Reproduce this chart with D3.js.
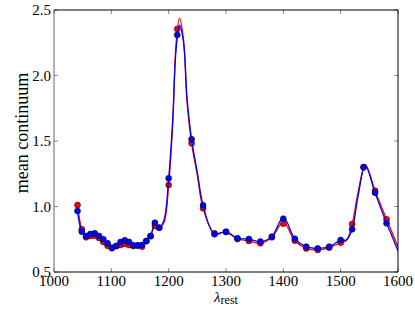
<!DOCTYPE html>
<html><head><meta charset="utf-8">
<script src="https://cdn.jsdelivr.net/npm/d3@7"></script>
<style>body{margin:0;background:#fff}svg{display:block}</style>
</head><body>
<script>
// ---- data ----
const wave = [1041,1048.5,1056,1063.5,1071,1078.5,1086,1093.5,1101,1108.5,1116,1123.5,1131,1138.5,1146,1153.5,1161,1168.5,1176,1183.5,1200,1215,1240,1260,1280,1300,1320,1340,1360,1380,1400,1420,1440,1460,1480,1500,1520,1540,1560,1580];
const redPts = [1.011,0.826,0.765,0.775,0.777,0.760,0.729,0.700,0.681,0.698,0.706,0.714,0.706,0.698,0.700,0.693,0.735,0.773,0.851,0.838,1.164,2.355,1.482,0.986,0.795,0.805,0.752,0.737,0.719,0.765,0.869,0.739,0.680,0.668,0.686,0.724,0.866,1.300,1.120,0.902];
const bluePts = [0.966,0.808,0.775,0.790,0.795,0.775,0.750,0.719,0.686,0.698,0.729,0.742,0.729,0.704,0.704,0.706,0.737,0.775,0.876,0.838,1.215,2.310,1.513,1.009,0.788,0.808,0.757,0.752,0.732,0.770,0.907,0.754,0.693,0.680,0.693,0.744,0.826,1.300,1.105,0.872];

// model curves
const curveWave = [1041,1048.5,1056,1063.5,1071,1078.5,1086,1093.5,1101,1108.5,1116,1123.5,1131,1138.5,1146,1153.5,1161,1168.5,1176,1183.5,1192,1200,1207,1213,1219,1226,1232,1240,1250,1260,1280,1300,1320,1340,1360,1380,1400,1420,1440,1460,1480,1500,1510,1520,1530,1543,1560,1580,1590,1600];
const redCurve = [1.011,0.826,0.765,0.775,0.777,0.760,0.729,0.700,0.681,0.698,0.706,0.714,0.706,0.698,0.700,0.693,0.735,0.773,0.851,0.838,0.880,1.164,1.620,2.250,2.437,2.270,1.800,1.482,1.240,0.986,0.795,0.805,0.752,0.737,0.719,0.765,0.880,0.739,0.680,0.668,0.686,0.724,0.740,0.866,1.100,1.320,1.120,0.902,0.800,0.690];
const blueCurve = [0.966,0.808,0.775,0.790,0.795,0.775,0.750,0.719,0.686,0.698,0.729,0.742,0.729,0.704,0.704,0.706,0.737,0.775,0.876,0.838,0.900,1.215,1.660,2.200,2.385,2.250,1.830,1.513,1.260,1.009,0.788,0.808,0.757,0.752,0.732,0.770,0.917,0.754,0.693,0.680,0.693,0.744,0.745,0.826,1.070,1.310,1.105,0.872,0.770,0.660];

const xTicks = [1000,1100,1200,1300,1400,1500,1600];
const yTicks = [0.5,1.0,1.5,2.0,2.5];

// ---- layout ----
const W = 415, H = 312;
const L = 54, R = 398, T = 10, B = 272;
const svg = d3.select("body").append("svg").attr("width", W).attr("height", H);
const x = d3.scaleLinear().domain([1000,1600]).range([L,R]);
const y = d3.scaleLinear().domain([0.5,2.5]).range([B,T]);
const font = "'Liberation Serif', 'DejaVu Serif', serif";

svg.append("defs").append("clipPath").attr("id","clip")
  .append("rect").attr("x",L).attr("y",T).attr("width",R-L).attr("height",B-T);

const line = d3.line().x(d=>x(d[0])).y(d=>y(d[1])).curve(d3.curveCatmullRom.alpha(0.5));
const plot = svg.append("g").attr("clip-path","url(#clip)");

function series(curveVals, ptVals, color){
  plot.append("path").datum(curveWave.map((w,i)=>[w,curveVals[i]]))
    .attr("d", line).attr("fill","none").attr("stroke",color).attr("stroke-width",1.3);
  plot.append("g").selectAll("circle").data(wave.map((w,i)=>[w,ptVals[i]])).join("circle")
    .attr("cx",d=>x(d[0])).attr("cy",d=>y(d[1])).attr("r",3)
    .attr("fill",color).attr("stroke","#000").attr("stroke-width",0.5);
}
series(redCurve, redPts, "#ff0000");
series(blueCurve, bluePts, "#0000ff");

// ---- axes ----
const tickLen = 4;
const axisG = svg.append("g");
xTicks.forEach(t=>{
  axisG.append("line").attr("x1",x(t)).attr("x2",x(t)).attr("y1",B).attr("y2",B-tickLen).attr("stroke","#888");
  axisG.append("line").attr("x1",x(t)).attr("x2",x(t)).attr("y1",T).attr("y2",T+tickLen).attr("stroke","#888");
});
yTicks.forEach(t=>{
  axisG.append("line").attr("x1",L).attr("x2",L+tickLen).attr("y1",y(t)).attr("y2",y(t)).attr("stroke","#888");
  axisG.append("line").attr("x1",R).attr("x2",R-tickLen).attr("y1",y(t)).attr("y2",y(t)).attr("stroke","#888");
});
axisG.append("line").attr("x1",L).attr("x2",L).attr("y1",T).attr("y2",B).attr("stroke","#666").attr("stroke-width",1);
axisG.append("line").attr("x1",R).attr("x2",R).attr("y1",T).attr("y2",B).attr("stroke","#000").attr("stroke-width",1);
axisG.append("line").attr("x1",L).attr("x2",R).attr("y1",T).attr("y2",T).attr("stroke","#000").attr("stroke-width",1);
axisG.append("line").attr("x1",L).attr("x2",R).attr("y1",B).attr("y2",B).attr("stroke","#000").attr("stroke-width",1);

// tick labels
svg.append("g").selectAll("text").data(xTicks).join("text")
  .attr("x",d=>x(d)).attr("y",B+14).attr("text-anchor","middle")
  .attr("font-family",font).attr("font-size",15).attr("fill","#000")
  .text(d=>d3.format("d")(d));
svg.append("g").selectAll("text").data(yTicks).join("text")
  .attr("x",L-3).attr("y",d=>y(d)+5).attr("text-anchor","end")
  .attr("font-family",font).attr("font-size",15).attr("fill","#000")
  .text(d=>d3.format(".1f")(d));

// axis labels
svg.append("text").attr("transform","translate(28,133) rotate(-90)")
  .attr("text-anchor","middle").attr("font-family",font).attr("font-size",18)
  .attr("fill","#000").text("mean continuum");
const xl = svg.append("text").attr("x",(L+R)/2).attr("y",302).attr("text-anchor","middle")
  .attr("font-family",font).attr("font-size",15).attr("fill","#000");
xl.append("tspan").attr("font-style","italic").text("λ");
xl.append("tspan").attr("font-size",12).attr("dy",2).text("rest");
</script>
</body></html>
